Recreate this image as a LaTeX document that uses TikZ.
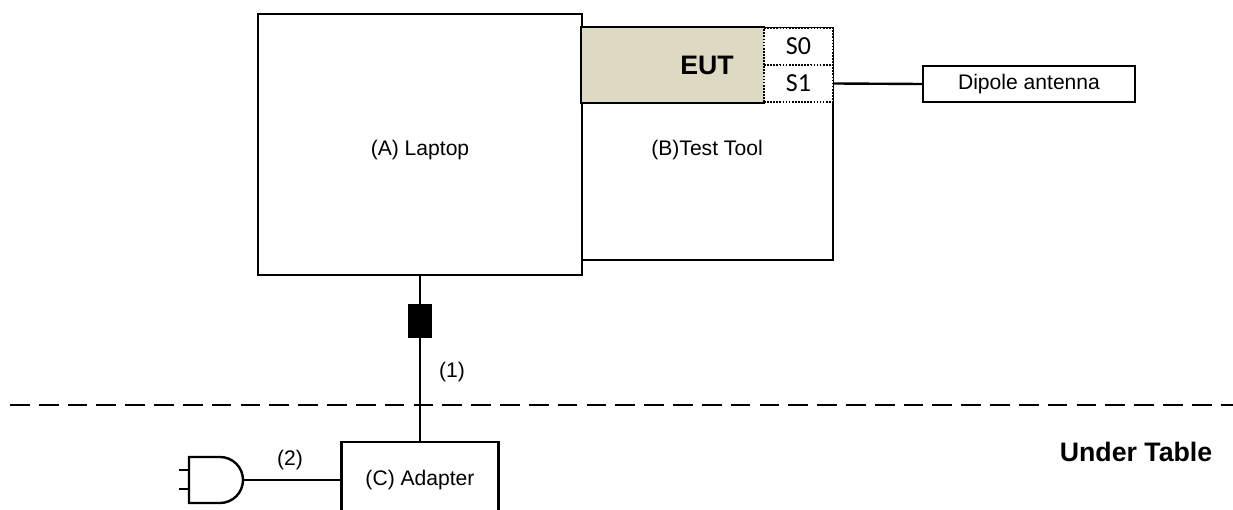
\documentclass[tikz,border=0pt]{standalone}
\usepackage{fontspec}
\setmainfont{Liberation Sans}
\newfontfamily\calibri{Carlito}
\definecolor{eutfill}{HTML}{DDD9C3}
\begin{document}
\begin{tikzpicture}[x=0.025cm,y=-0.025cm,line width=1.7pt,
  every node/.style={font=\fontsize{15}{18}\selectfont},
  box/.style={draw,rectangle,inner sep=0pt},
  slot/.style={draw,rectangle,inner sep=0pt,fill=white,densely dotted,line width=1.2pt,
    minimum width=1.725cm,minimum height=0.925cm,font=\calibri\fontsize{18.5}{21}\selectfont},
  big/.style={font=\bfseries\fontsize{19}{22}\selectfont}]
\useasboundingbox (0,0) rectangle (1233,510);
\clip (0,0) rectangle (1233,510);
% laptop and test tool
\node[box,minimum width=8.1cm,minimum height=6.525cm] (laptop) at (420,144.5) {};
\node at (420,150) {(A) Laptop};
\node[box,minimum width=6.275cm,minimum height=5.8cm] (tool) at (707.5,144) {};
\node at (707,150) {(B)Test Tool};
% EUT and slots
\node[rectangle,fill=eutfill,inner sep=0pt,minimum width=4.55cm,minimum height=1.85cm] (eut) at (673,65) {};
\draw (eut.north east) -- (eut.north west) -- (eut.south west) -- (eut.south east);
\node[big] at (707,65) {EUT};
\node[slot] (s0) at (798.5,46.5) {S0};
\node[slot] (s1) at (798.5,83.5) {S1};
% antenna
\node[box,minimum width=5.3cm,minimum height=0.9cm] (ant) at (1029,84) {Dipole antenna};
\draw (s1.east) -- (ant.west);
% cable with ferrite
\node[box,fill=black,minimum width=0.55cm,minimum height=0.8cm] (ferrite) at (420,321) {};
\node[box,minimum width=3.925cm,minimum height=1.9cm] (adapter) at (420,480) {(C) Adapter};
\draw (laptop.south) -- (ferrite.north);
\draw (ferrite.south) -- (adapter.north);
\node at (452,372) {(1)};
% table edge
\draw[dash pattern=on 14pt off 6.5pt] (10,405) -- (1233,405);
\node[big] at (1136,452) {Under Table};
% plug
\draw (220,457) -- (189,457) -- (189,503) -- (220,503) arc[start angle=-90,end angle=90,radius=0.575cm];
\draw (179,470) -- (189,470) (179,489) -- (189,489);
\coordinate (plug) at (243,480);
\draw (plug) -- (adapter.west);
\node at (290,460) {(2)};
\end{tikzpicture}
\end{document}
